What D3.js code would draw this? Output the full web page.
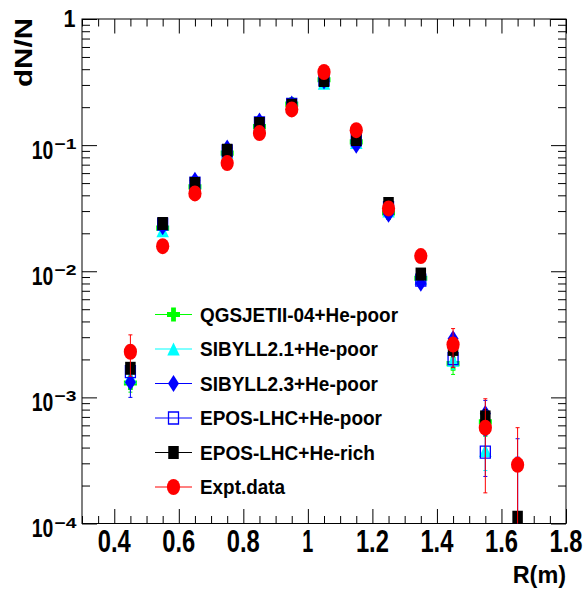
<!DOCTYPE html>
<html>
<head>
<meta charset="utf-8">
<script src="https://cdn.jsdelivr.net/npm/d3@7/dist/d3.min.js"></script>
<style>
  html, body { margin: 0; padding: 0; background: #fff; }
  svg { display: block; }
  text { font-family: "Liberation Sans", Arial, sans-serif; font-weight: bold; fill: #000; }
</style>
</head>
<body>
<svg id="chart" width="587" height="593"></svg>
<script>
// Radial distance bins (m)
const radius = [0.45, 0.55, 0.65, 0.75, 0.85, 0.95, 1.05, 1.15, 1.25, 1.35, 1.45, 1.55, 1.65];

// dN/N per model (null = no entry)
const qgsjetPoor   = [0.0013, 0.022, 0.0467, 0.0864, 0.140, 0.211, 0.330, 0.106, 0.0290, 0.0088, 0.00185, 0.00064, null];
const qgsjetPoorErr= [0.0002, 0.001, 0.0015, 0.002, 0.003, 0.004, 0.005, 0.002, 0.001, 0.0004, 0.00033, 0.00015, null];

const sibyll21Poor   = [0.00145, 0.0209, 0.0480, 0.0880, 0.145, 0.205, 0.310, 0.105, 0.0300, 0.0088, 0.00197, 0.000379, null];
const sibyll21PoorErr= [0.0002, 0.001, 0.0015, 0.002, 0.003, 0.004, 0.005, 0.002, 0.001, 0.0004, 0.0003, 0.000116, null];

const sibyll23Poor   = [0.00132, 0.0225, 0.0527, 0.0947, 0.155, 0.212, 0.322, 0.100, 0.0283, 0.00803, 0.00292, 0.000746, 0.00006];
const sibyll23PoorErr= [0.00032, 0.001, 0.0015, 0.002, 0.003, 0.004, 0.005, 0.002, 0.001, 0.0004, 0.0003, 0.0002, 0.000276];

const eposPoor   = [0.0016, 0.0236, 0.0500, 0.0900, 0.150, 0.210, 0.330, 0.110, 0.0320, 0.0085, 0.00203, 0.000368, 0.00008];
const eposPoorErr= [0.0002, 0.001, 0.0015, 0.002, 0.003, 0.004, 0.005, 0.002, 0.001, 0.0004, 0.0003, 0.000132, 0.00039];

const eposRich   = [0.0017, 0.0239, 0.0497, 0.0912, 0.1486, 0.207, 0.325, 0.111, 0.0345, 0.0095, 0.0024, 0.0007, 0.000112];
const eposRichErr= [0.0001, 0.001, 0.0015, 0.002, 0.003, 0.004, 0.005, 0.002, 0.001, 0.0004, 0.0003, 0.0001, 0.00001];

const exptData   = [0.0023, 0.0158, 0.0414, 0.0720, 0.1245, 0.192, 0.380, 0.1315, 0.0315, 0.0132, 0.00262, 0.000575, 0.000292];
const exptDataErr= [0.00083, 0.0009, 0.0016, 0.0025, 0.0035, 0.005, 0.009, 0.0045, 0.0012, 0.0006, 0.00089, 0.0004, 0.000283];

// Legend / series descriptors
const seriesNames  = ["QGSJETII-04+He-poor", "SIBYLL2.1+He-poor", "SIBYLL2.3+He-poor", "EPOS-LHC+He-poor", "EPOS-LHC+He-rich", "Expt.data"];
const seriesColors = ["#00ff00", "#00ffff", "#0000ff", "#0000ff", "#000000", "#ff0000"];
const seriesMarkers= ["cross", "triangle", "diamond", "openSquare", "square", "circle"];
const seriesValues = [qgsjetPoor, sibyll21Poor, sibyll23Poor, eposPoor, eposRich, exptData];
const seriesErrors = [qgsjetPoorErr, sibyll21PoorErr, sibyll23PoorErr, eposPoorErr, eposRichErr, exptDataErr];
const legendWidths = [198, 178, 178, 182, 175, 85];

// Axis ticks
const xMajorTicks = [0.4, 0.6, 0.8, 1.0, 1.2, 1.4, 1.6, 1.8];
const xTickLabels = ["0.4", "0.6", "0.8", "1", "1.2", "1.4", "1.6", "1.8"];
const xMinorTicks = d3.range(0.30, 1.801, 0.05).map(v => +v.toFixed(2)).filter(v => !xMajorTicks.some(m => Math.abs(m - v) < 1e-6));
const yDecades    = [-4, -3, -2, -1, 0];
const yMinorMult  = [2, 3, 4, 5, 6, 7, 8, 9];

const svg = d3.select("#chart");
const frameL = 82, frameR = 566, frameT = 19, frameB = 523.5;

const x = d3.scaleLinear().domain([0.3, 1.8]).range([frameL, frameR]);
const y = d3.scaleLog().domain([1e-4, 1]).range([frameB, frameT]);

const yMajorTicks = yDecades.map(e => Math.pow(10, e));
const yMinorTicks = [];
yDecades.slice(0, -1).forEach(e => yMinorMult.forEach(m => yMinorTicks.push(m * Math.pow(10, e))));

// ---------- axes ----------
function tickAxis(gen, values, size, transform) {
  const g = svg.append("g").attr("transform", transform)
    .call(gen.tickValues(values).tickSize(size).tickSizeOuter(0).tickFormat(""));
  g.select(".domain").remove();
  g.selectAll(".tick line").attr("stroke", "#000").attr("stroke-width", 1);
  return g;
}
tickAxis(d3.axisBottom(x), xMajorTicks, -14.5, `translate(0,${frameB})`);
tickAxis(d3.axisBottom(x), xMinorTicks, -7.5, `translate(0,${frameB})`);
tickAxis(d3.axisTop(x), xMajorTicks, -14.5, `translate(0,${frameT})`);
tickAxis(d3.axisTop(x), xMinorTicks, -7.5, `translate(0,${frameT})`);
tickAxis(d3.axisLeft(y), yMajorTicks, -15, `translate(${frameL},0)`);
tickAxis(d3.axisLeft(y), yMinorTicks, -8, `translate(${frameL},0)`);
tickAxis(d3.axisRight(y), yMajorTicks, -15, `translate(${frameR},0)`);
tickAxis(d3.axisRight(y), yMinorTicks, -8, `translate(${frameR},0)`);

svg.append("rect")
  .attr("x", frameL).attr("y", frameT)
  .attr("width", frameR - frameL).attr("height", frameB - frameT)
  .attr("fill", "none").attr("stroke", "#000").attr("stroke-width", 1);

// Text with a fixed drawn length (the fonts here are set narrow)
function fitText(parent, str, px, py, size, len) {
  return parent.append("text")
    .attr("x", px).attr("y", py)
    .attr("font-size", size)
    .attr("textLength", len)
    .attr("lengthAdjust", "spacingAndGlyphs")
    .text(str);
}

// x tick labels
xMajorTicks.forEach((v, i) => {
  const len = 11 * xTickLabels[i].length;
  fitText(svg, xTickLabels[i], x(v) - len / 2, 552, 31, len);
});

// y tick labels: 1, 10^-1 ... 10^-4
yDecades.forEach(e => {
  const py = y(Math.pow(10, e));
  if (e === 0) {
    fitText(svg, "1", 63.5, py + 8, 23, 12);
  } else {
    const lbl = svg.append("text")
      .attr("x", 31.7).attr("y", py + 13.6).attr("font-size", 25);
    lbl.append("tspan").attr("textLength", 21.6).attr("lengthAdjust", "spacingAndGlyphs").text("10");
    lbl.append("tspan").attr("x", 54.5).attr("y", py + 4).attr("font-size", 15)
      .attr("textLength", 22).attr("lengthAdjust", "spacingAndGlyphs")
      .text("\u2212" + Math.abs(e));
  }
});

// axis titles
fitText(svg, "R(m)", 512.7, 583, 24, 53.3);
svg.append("text")
  .attr("transform", "translate(31.5,87) rotate(-90)")
  .attr("font-size", 23)
  .attr("textLength", 69)
  .attr("lengthAdjust", "spacingAndGlyphs")
  .text("dN/N");

// ---------- markers ----------
function markerPath(kind) {
  switch (kind) {
    case "square": { const w = 10.5, h = 13; return `M${-w/2},${-h/2}h${w}v${h}h${-w}Z`; }
    case "openSquare": { const w = 10, h = 12; return `M${-w/2},${-h/2}h${w}v${h}h${-w}Z`; }
    case "diamond": { const w = 11, h = 17; return `M0,${-h/2}L${w/2},0L0,${h/2}L${-w/2},0Z`; }
    case "triangle": { const w = 12.5, h = 13; return `M0,${-h/2}L${w/2},${h/2}L${-w/2},${h/2}Z`; }
    case "cross": {
      const w = 13, h = 14, a = 2.4, b = 2.6;
      return `M${-a},${-h/2}H${a}V${-b}H${w/2}V${b}H${a}V${h/2}H${-a}V${b}H${-w/2}V${-b}H${-a}Z`;
    }
  }
  return null;
}
function drawMarker(parent, kind, color, cx, cy) {
  if (kind === "circle") {
    parent.append("ellipse").attr("cx", cx).attr("cy", cy)
      .attr("rx", 6.6).attr("ry", 8).attr("fill", color);
  } else if (kind === "openSquare") {
    parent.append("path").attr("transform", `translate(${cx},${cy})`)
      .attr("d", markerPath(kind)).attr("fill", "none")
      .attr("stroke", color).attr("stroke-width", 1.3);
  } else {
    parent.append("path").attr("transform", `translate(${cx},${cy})`)
      .attr("d", markerPath(kind)).attr("fill", color);
  }
}

svg.append("clipPath").attr("id", "plotClip")
  .append("rect").attr("x", frameL).attr("y", frameT)
  .attr("width", frameR - frameL).attr("height", frameB - frameT);

const plot = svg.append("g").attr("clip-path", "url(#plotClip)");
const yClamp = v => (v > 0 ? y(v) : frameB + 50);

seriesValues.forEach((vals, s) => {
  const g = plot.append("g");
  const col = seriesColors[s];
  const errs = seriesErrors[s];
  radius.forEach((r, i) => {
    const v = vals[i];
    if (v == null) return;
    const e = errs[i];
    const cx = x(r);
    const yHi = y(v + e);
    const yLo = yClamp(v - e);
    g.append("line").attr("x1", cx).attr("x2", cx)
      .attr("y1", yHi).attr("y2", yLo)
      .attr("stroke", col).attr("stroke-width", 1);
    g.append("line").attr("x1", cx - 2).attr("x2", cx + 2)
      .attr("y1", yHi).attr("y2", yHi).attr("stroke", col).attr("stroke-width", 1);
    if (v - e > 0) {
      g.append("line").attr("x1", cx - 2).attr("x2", cx + 2)
        .attr("y1", yLo).attr("y2", yLo).attr("stroke", col).attr("stroke-width", 1);
    }
    if (v >= 1e-4) drawMarker(g, seriesMarkers[s], col, cx, y(v));
  });
});

// ---------- legend ----------
const legend = svg.append("g");
seriesNames.forEach((name, i) => {
  const cy = 314.5 + i * 34.5;
  legend.append("line").attr("x1", 155).attr("x2", 192)
    .attr("y1", cy).attr("y2", cy)
    .attr("stroke", seriesColors[i]).attr("stroke-width", 1);
  drawMarker(legend, seriesMarkers[i], seriesColors[i], 173.5, cy);
  fitText(legend, name, 200, cy + 7, 20, legendWidths[i]);
});
</script>
</body>
</html>
